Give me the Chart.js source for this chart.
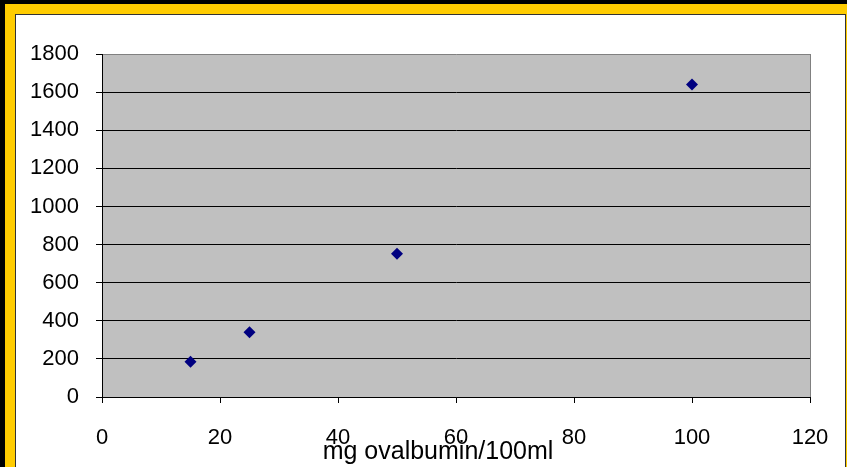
<!DOCTYPE html>
<html>
<head>
<meta charset="utf-8">
<script src="https://cdn.jsdelivr.net/npm/chart.js@4/dist/chart.umd.min.js"></script>
<style>
  html, body { margin: 0; padding: 0; background: #000; width: 847px; height: 467px; overflow: hidden; }
  #frame { position: absolute; left: 5px; top: 4px; width: 842px; height: 463px; background: #FFCC00; overflow: hidden; }
  #inner { position: absolute; left: 10px; top: 10px; width: 829px; height: 460px; background: #fff; border: 1px solid #333; }
  #inner canvas { position: absolute; left: 0; top: 0; }
</style>
</head>
<body>
<div id="frame"><div id="inner"><canvas id="chart" width="829" height="452"></canvas></div></div>
<script>
// ovalbumin concentration (x) vs reading (y)
const concentrations = [15, 25, 50, 100];
const readings = [185, 340, 752, 1640];
const xTicks = [0, 20, 40, 60, 80, 100, 120];
const yTicks = [0, 200, 400, 600, 800, 1000, 1200, 1400, 1600, 1800];
const xTitle = 'mg ovalbumin/100ml';

const fontFamily = '"Liberation Sans", Arial, sans-serif';

const plotBackground = {
    id: 'plotBackground',
    beforeDraw(chart) {
        const { ctx, chartArea } = chart;
        ctx.save();
        ctx.fillStyle = '#C0C0C0';
        ctx.fillRect(chartArea.left, chartArea.top, chartArea.right - chartArea.left, chartArea.bottom - chartArea.top);
        ctx.restore();
    }
};

// Excel puts the axis title a bit left of the plot centre, overlapping the tick labels
const axisTitle = {
    id: 'axisTitle',
    afterDraw(chart) {
        const { ctx } = chart;
        ctx.save();
        ctx.font = '25px ' + fontFamily;
        ctx.fillStyle = '#000';
        ctx.textAlign = 'center';
        ctx.textBaseline = 'middle';
        ctx.fillText(xTitle, 422, 437);
        ctx.restore();
    }
};

new Chart(document.getElementById('chart'), {
    type: 'scatter',
    data: {
        datasets: [{
            data: concentrations.map((c, i) => ({ x: c, y: readings[i] })),
            pointStyle: 'rectRot',
            pointRadius: 6,
            pointBackgroundColor: '#000080',
            pointBorderColor: '#000080',
            pointBorderWidth: 0
        }]
    },
    options: {
        responsive: false,
        animation: false,
        layout: { padding: { left: 0, right: 35, top: 39, bottom: 0 } },
        plugins: { legend: { display: false }, tooltip: { enabled: false } },
        scales: {
            x: {
                type: 'linear',
                min: 0, max: 120,
                afterBuildTicks: axis => { axis.ticks = xTicks.map(v => ({ value: v })); },
                afterFit: axis => {
                    axis.height = 70;
                    // the 120 label fits inside the right padding
                    axis.paddingLeft = 0;
                    axis.paddingRight = 0;
                },
                border: { color: '#000', width: 1 },
                grid: {
                    drawOnChartArea: true,
                    color: c => c.tick && c.tick.value === 120 ? '#808080' : 'rgba(0,0,0,0)',
                    tickColor: '#000',
                    tickLength: 6,
                    lineWidth: 1
                },
                ticks: {
                    color: '#000', padding: 22, maxRotation: 0,
                    font: { family: fontFamily, size: 22 },
                    callback: v => String(v)
                }
            },
            y: {
                min: 0, max: 1800,
                afterBuildTicks: axis => { axis.ticks = yTicks.map(v => ({ value: v })); },
                afterFit: axis => { axis.width = 86; },
                border: { color: '#000', width: 1 },
                grid: {
                    color: c => c.tick && c.tick.value === 1800 ? '#808080' : '#000',
                    tickColor: '#000',
                    tickLength: 6,
                    lineWidth: 1
                },
                ticks: {
                    color: '#000', padding: 17,
                    font: { family: fontFamily, size: 22 },
                    callback: v => String(v)
                }
            }
        }
    },
    plugins: [plotBackground, axisTitle]
});
</script>
</body>
</html>
